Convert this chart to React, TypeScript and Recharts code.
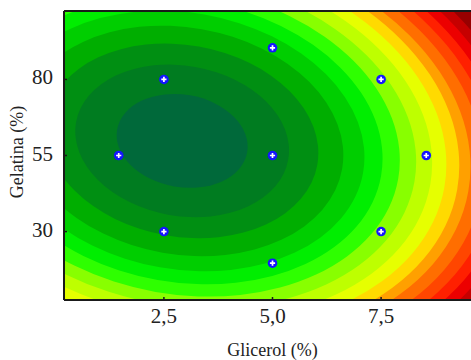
import React from 'react';
import { ScatterChart, Scatter, XAxis, YAxis, ReferenceArea, Label } from 'recharts';

// Axis ticks
const glicerolTicks = [2.5, 5, 7.5];
const gelatinaTicks = [30, 55, 80];
const topTicks = [1.43, 2.62, 3.81, 5, 6.19, 7.38, 8.57];

// Experimental design points (Glicerol %, Gelatina %)
const designGlicerol = [2.5, 2.5, 7.5, 7.5, 1.46, 8.54, 5, 5, 5];
const designGelatina = [30, 80, 30, 80, 55, 55, 19.6, 90.4, 55];

// Response surface: contour ellipses (centre, semi-axes in data units)
const surfaceCenterGlicerol = 2.92;
const surfaceCenterGelatina = 59.8;
const contourGlicerolRadius = [1.52, 2.48, 3.16, 3.74, 4.23, 4.65, 5.05, 5.43, 5.8, 6.13, 6.43, 6.69, 6.99, 7.27, 7.53, 7.79, 8.05];
const contourGelatinaRadius = [15.2, 24.7, 31.5, 37.3, 42.2, 46.4, 50.4, 54.1, 57.9, 61.1, 64.2, 66.7, 69.8, 72.6, 75.1, 77.7, 80.3];
// band colours from the centre (index 0) outward
const bandColors = [
  '#00693A', '#007C20', '#008F12', '#00AE00', '#00CE00', '#00EE00', '#2EFF00', '#88FF00', '#BEFF00',
  '#E6FF00', '#FFDA00', '#FFA000', '#FF6E00', '#FF4600', '#FF2000', '#EC0000', '#C60000', '#980000',
];
const contourTilt = 10;

const xDomain: [number, number] = [0.2, 9.8];
const yDomain: [number, number] = [7.5, 102.5];

const FONT = '"Liberation Serif", "Times New Roman", serif';

const points = designGlicerol.map((g, i) => ({ x: g, y: designGelatina[i] }));

const ellipseShape = (props: any) => {
  const { x, y, width, height, fill, clipPath } = props;
  const cx = x + width / 2;
  const cy = y + height / 2;
  return (
    <g clipPath={clipPath}>
      <ellipse
        cx={cx}
        cy={cy}
        rx={Math.abs(width) / 2}
        ry={Math.abs(height) / 2}
        fill={fill}
        stroke="none"
        transform={`rotate(${contourTilt} ${cx} ${cy})`}
      />
    </g>
  );
};

const markerShape = (props: any) => {
  const { cx, cy } = props;
  if (cx == null || cy == null) return <g />;
  return (
    <g>
      <circle cx={cx} cy={cy} r={4.8} fill="#1414ff" />
      <path
        d={`M${cx - 2.6},${cy}H${cx + 2.6}M${cx},${cy - 2.6}V${cy + 2.6}`}
        stroke="#ffffff"
        strokeWidth={1.7}
      />
    </g>
  );
};

const fmtComma = (v: number) => v.toFixed(1).replace('.', ',');

const XTick = (props: any) => {
  const { x, y, payload } = props;
  return (
    <text x={x} y={y} dy={26} textAnchor="middle" fontFamily={FONT} fontSize={21} fill="#222">
      {fmtComma(payload.value)}
    </text>
  );
};

const YTick = (props: any) => {
  const { x, y, payload } = props;
  return (
    <text x={x} y={y} dy={5} textAnchor="end" fontFamily={FONT} fontSize={21} fill="#222">
      {payload.value}
    </text>
  );
};

export default function App() {
  const bands = contourGlicerolRadius.map((rx, i) => ({ rx, ry: contourGelatinaRadius[i], fill: bandColors[i] }));
  const order = bands.map((_, i) => i).reverse();
  return (
    <div style={{ position: 'absolute', left: 0, top: 0, width: 471, height: 360, overflow: 'hidden', background: '#fff' }}>
      <ScatterChart width={491} height={360} margin={{ top: 1, right: 10, bottom: 0, left: 0 }}>
        <ReferenceArea
          x1={xDomain[0]}
          x2={xDomain[1]}
          y1={yDomain[0]}
          y2={yDomain[1]}
          fill={bandColors[bandColors.length - 1]}
          fillOpacity={1}
          stroke="none"
          ifOverflow="hidden"
        />
        {order.map((i) => (
          <ReferenceArea
            key={i}
            x1={surfaceCenterGlicerol - bands[i].rx}
            x2={surfaceCenterGlicerol + bands[i].rx}
            y1={surfaceCenterGelatina - bands[i].ry}
            y2={surfaceCenterGelatina + bands[i].ry}
            fill={bands[i].fill}
            fillOpacity={1}
            ifOverflow="hidden"
            shape={ellipseShape}
          />
        ))}
        <XAxis
          type="number"
          dataKey="x"
          domain={xDomain}
          allowDataOverflow
          ticks={glicerolTicks}
          interval={0}
          height={60}
          tickSize={-3}
          tickMargin={0}
          tick={<XTick />}
          axisLine={{ stroke: '#1a1a1a', strokeWidth: 2 }}
          tickLine={{ stroke: '#1a1a1a', strokeWidth: 1.5 }}
        >
          <Label
            content={() => (
              <text x={272.5} y={356} textAnchor="middle" fontFamily={FONT} fontSize={18} fill="#222">
                Glicerol (%)
              </text>
            )}
          />
        </XAxis>
        <XAxis
          xAxisId="top"
          orientation="top"
          type="number"
          domain={xDomain}
          allowDataOverflow
          ticks={topTicks}
          interval={0}
          height={10}
          tickSize={-3}
          tick={false}
          axisLine={{ stroke: '#1a1a1a', strokeWidth: 2 }}
          tickLine={{ stroke: '#1a1a1a', strokeWidth: 1.5 }}
        />
        <YAxis
          type="number"
          dataKey="y"
          domain={yDomain}
          allowDataOverflow
          ticks={gelatinaTicks}
          interval={0}
          width={64}
          tickSize={-3}
          tickMargin={14}
          tick={<YTick />}
          axisLine={{ stroke: '#1a1a1a', strokeWidth: 2 }}
          tickLine={{ stroke: '#1a1a1a', strokeWidth: 1.5 }}
        >
          <Label
            content={() => (
              <text
                x={17}
                y={152}
                transform="rotate(-90 17 152)"
                textAnchor="middle"
                dominantBaseline="central"
                fontFamily={FONT}
                fontSize={18}
                fill="#222"
              >
                Gelatina (%)
              </text>
            )}
          />
        </YAxis>
        <Scatter data={points} isAnimationActive={false} shape={markerShape} />
      </ScatterChart>
    </div>
  );
}
